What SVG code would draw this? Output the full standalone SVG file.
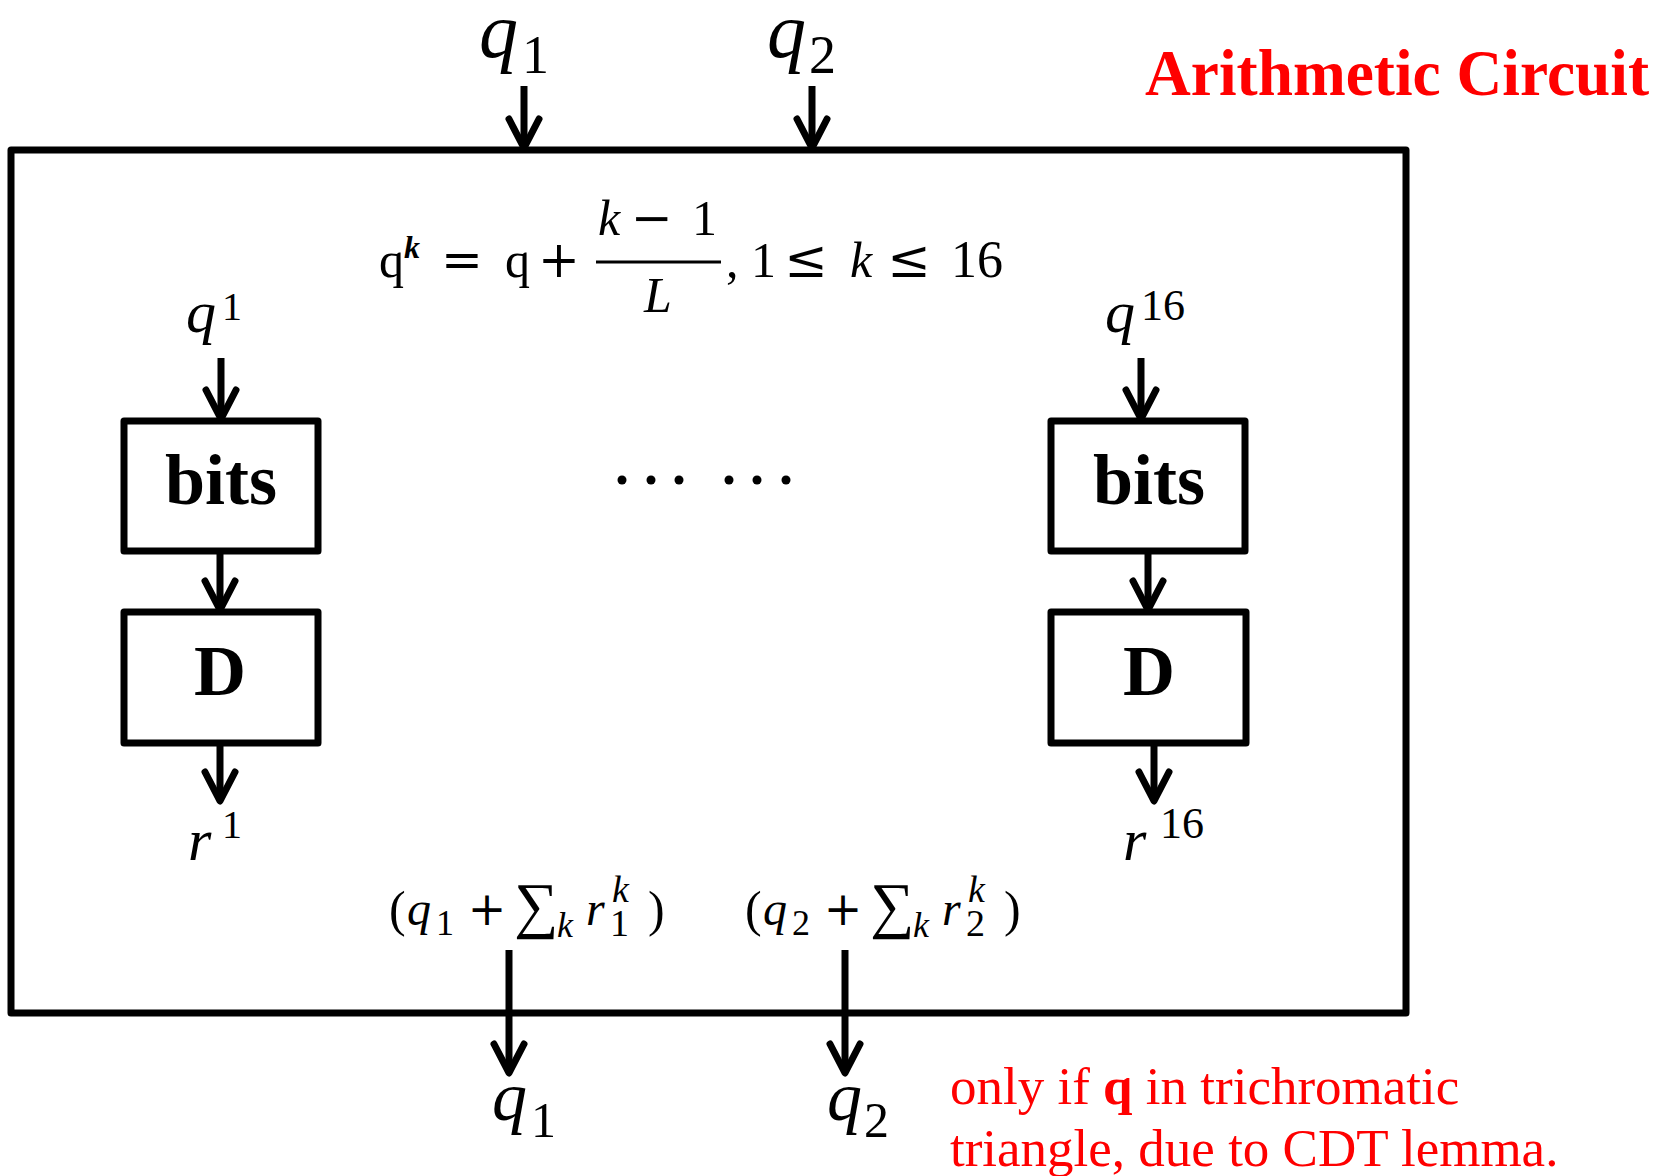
<svg xmlns="http://www.w3.org/2000/svg" width="1664" height="1176" viewBox="0 0 1664 1176">
<defs>
<marker id="ah" markerUnits="userSpaceOnUse" markerWidth="44" markerHeight="44" viewBox="-36 -22 44 44" refX="0" refY="0" orient="auto">
<path d="M-29,-15 L0,0 L-29,15" fill="none" stroke="#000" stroke-width="7" stroke-linecap="round" stroke-linejoin="round"/>
</marker>
<style>
.box{fill:none;stroke:#000;stroke-width:7;stroke-linejoin:round}
.con{stroke:#000;stroke-width:7;marker-end:url(#ah)}
.m{font-family:"Liberation Serif","Times New Roman",serif;fill:#000}
.i{font-style:italic}
.op{font-family:"DejaVu Serif","Liberation Serif",serif;fill:#000}
.lbl{font-family:"Liberation Serif","Times New Roman",serif;font-weight:bold;fill:#000;text-anchor:middle}
.red{font-family:"Liberation Serif","Times New Roman",serif;fill:#ff0000}
</style>
</defs>
<rect width="1664" height="1176" fill="#fff"/>

<g id="circuit">
<rect class="box" x="11" y="150" width="1395" height="863"/>
</g>

<g id="title">
<text class="red" x="1145" y="95" font-size="66" font-weight="bold" textLength="504" lengthAdjust="spacingAndGlyphs">Arithmetic Circuit</text>
</g>

<g id="in-q1">
<text class="m i" x="479" y="57" font-size="78">q</text>
<text class="m" x="522" y="73" font-size="54">1</text>
</g>
<g id="in-q2">
<text class="m i" x="767" y="57" font-size="78">q</text>
<text class="m" x="809" y="73" font-size="54">2</text>
</g>

<g id="formula">
<text class="m" x="379" y="277" font-size="50">q</text>
<text class="m i" x="404" y="258" font-size="32" font-weight="bold">k</text>
<text class="op" x="462" y="277" font-size="50" text-anchor="middle">=</text>
<text class="m" x="505" y="277" font-size="50">q</text>
<text class="op" x="559" y="277" font-size="50" text-anchor="middle">+</text>
<line x1="596" y1="262" x2="721" y2="262" stroke="#000" stroke-width="3"/>
<text class="m i" x="598" y="235" font-size="50">k</text>
<text class="op" x="652" y="235" font-size="50" text-anchor="middle">−</text>
<text class="m" x="692" y="235" font-size="50">1</text>
<text class="m i" x="644" y="312" font-size="50">L</text>
<text class="m" x="726" y="277" font-size="50">,</text>
<text class="m" x="751" y="277" font-size="50">1</text>
<text class="op" x="806" y="277" font-size="52" text-anchor="middle">≤</text>
<text class="m i" x="850" y="277" font-size="50">k</text>
<text class="op" x="909" y="277" font-size="52" text-anchor="middle">≤</text>
<text class="m" x="951" y="277" font-size="52">16</text>
</g>

<g id="q-1">
<text class="m i" x="186" y="332" font-size="60">q</text>
<text class="m" x="222" y="320" font-size="40">1</text>
</g>
<g id="bits-1">
<rect class="box" x="124" y="421" width="194" height="130"/>
<text class="lbl" x="221" y="504" font-size="72">bits</text>
</g>
<g id="D-1">
<rect class="box" x="124" y="612" width="194" height="131"/>
<text class="lbl" x="220" y="695" font-size="72">D</text>
</g>
<g id="r-1">
<text class="m i" x="188" y="860" font-size="60">r</text>
<text class="m" x="222" y="838" font-size="40">1</text>
</g>

<g id="dots">
<circle cx="622" cy="480" r="4.5"/>
<circle cx="651" cy="480" r="4.5"/>
<circle cx="679" cy="480" r="4.5"/>
<circle cx="729" cy="480" r="4.5"/>
<circle cx="757" cy="480" r="4.5"/>
<circle cx="786" cy="480" r="4.5"/>
</g>

<g id="q-16">
<text class="m i" x="1105" y="332" font-size="60">q</text>
<text class="m" x="1141" y="320" font-size="44">16</text>
</g>
<g id="bits-16">
<rect class="box" x="1051" y="421" width="194" height="130"/>
<text class="lbl" x="1149" y="504" font-size="72">bits</text>
</g>
<g id="D-16">
<rect class="box" x="1051" y="612" width="195" height="131"/>
<text class="lbl" x="1149" y="695" font-size="72">D</text>
</g>
<g id="r-16">
<text class="m i" x="1123" y="860" font-size="60">r</text>
<text class="m" x="1160" y="838" font-size="44">16</text>
</g>

<g id="sum-1">
<text class="m" x="389" y="926" font-size="50">(</text>
<text class="m i" x="407" y="925" font-size="48">q</text>
<text class="m" x="436" y="935" font-size="36">1</text>
<text class="op" x="487" y="925" font-size="46" text-anchor="middle">+</text>
<text class="m" x="514" y="926" font-size="62">∑</text>
<text class="m i" x="557" y="937" font-size="36">k</text>
<text class="m i" x="586" y="925" font-size="48">r</text>
<text class="m i" x="612" y="902" font-size="38">k</text>
<text class="m" x="610" y="936" font-size="38">1</text>
<text class="m" x="648" y="926" font-size="50">)</text>
</g>
<g id="sum-2">
<text class="m" x="745" y="926" font-size="50">(</text>
<text class="m i" x="763" y="925" font-size="48">q</text>
<text class="m" x="792" y="935" font-size="36">2</text>
<text class="op" x="843" y="925" font-size="46" text-anchor="middle">+</text>
<text class="m" x="870" y="926" font-size="62">∑</text>
<text class="m i" x="913" y="937" font-size="36">k</text>
<text class="m i" x="942" y="925" font-size="48">r</text>
<text class="m i" x="968" y="902" font-size="38">k</text>
<text class="m" x="966" y="936" font-size="38">2</text>
<text class="m" x="1004" y="926" font-size="50">)</text>
</g>

<g id="out-q1">
<text class="m i" x="492" y="1120" font-size="70">q</text>
<text class="m" x="531" y="1137" font-size="50">1</text>
</g>
<g id="out-q2">
<text class="m i" x="827" y="1120" font-size="70">q</text>
<text class="m" x="864" y="1137" font-size="50">2</text>
</g>

<g id="note">
<text class="red" x="950" y="1104" font-size="53">only if <tspan font-weight="bold">q</tspan> in trichromatic</text>
<text class="red" x="950" y="1166" font-size="53">triangle, due to CDT lemma.</text>
</g>

<g id="connectors">
<line class="con" x1="524" y1="86" x2="524" y2="148"/>
<line class="con" x1="812" y1="86" x2="812" y2="148"/>
<line class="con" x1="221" y1="358" x2="221" y2="419"/>
<line class="con" x1="220" y1="551" x2="220" y2="610"/>
<line class="con" x1="220" y1="743" x2="220" y2="801"/>
<line class="con" x1="1141" y1="358" x2="1141" y2="419"/>
<line class="con" x1="1148" y1="551" x2="1148" y2="610"/>
<line class="con" x1="1154" y1="743" x2="1154" y2="801"/>
<line class="con" x1="509" y1="950" x2="509" y2="1073"/>
<line class="con" x1="845" y1="950" x2="845" y2="1073"/>
</g>
</svg>
